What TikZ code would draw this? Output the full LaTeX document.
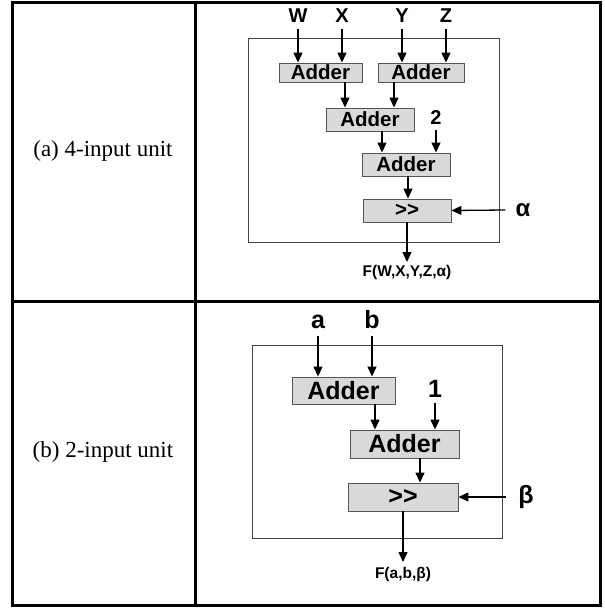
\documentclass[tikz,border=0pt]{standalone}
\usepackage{fontspec}
\setmainfont{Liberation Serif}
\newfontfamily\diagfont{Liberation Sans}
\usetikzlibrary{arrows.meta}
\definecolor{boxfill}{HTML}{D9D9D9}
\definecolor{boxline}{HTML}{555555}
\definecolor{unitline}{HTML}{444444}

\tikzset{
  addbox/.style={draw=boxline,fill=boxfill,line width=0.9pt,inner sep=0pt,
    font=\diagfont\bfseries\fontsize{20.5}{20.5}\selectfont},
  bigbox/.style={addbox,font=\diagfont\bfseries\fontsize{25}{25}\selectfont},
  lbl/.style={inner sep=0pt,font=\diagfont\bfseries\fontsize{20}{20}\selectfont},
  biglbl/.style={lbl,font=\diagfont\bfseries\fontsize{25}{25}\selectfont},
  outlbl/.style={inner sep=0pt,font=\diagfont\bfseries\fontsize{15.5}{15.5}\selectfont},
  arr/.style={line width=1.3pt,-{Triangle[length=10pt,width=9pt]}},
}

\begin{document}
\begin{tikzpicture}[x=1pt,y=-1pt]
    \useasboundingbox (0,0) rectangle (605,608);
    % table
    \draw[line width=3pt] (12.5,2.5) rectangle (600.5,605);
    \draw[line width=3pt] (12.5,301.5) -- (600.5,301.5);
    \draw[line width=3pt] (195,2.5) -- (195,605);
    \node[font=\fontsize{23}{23}\selectfont] (capa) at (103,151) {(a) 4-input unit};
    \node[font=\fontsize{23}{23}\selectfont] (capb) at (103,452) {(b) 2-input unit};

    % (a) 4-input unit
    \draw[draw=unitline,line width=1pt] (248,38) rectangle (499,242);
    \node[addbox,minimum width=83,minimum height=19] (add1) at (320.5,72.5) {Adder};
    \node[addbox,minimum width=86,minimum height=19] (add2) at (421,72.5) {Adder};
    \node[addbox,minimum width=88,minimum height=23] (add3) at (370,119.5) {Adder};
    \node[addbox,minimum width=88,minimum height=23] (add4) at (406,164.5) {Adder};
    \node[addbox,minimum width=88,minimum height=23] (shra) at (407,210.5) {>>};
    \node[lbl] (w) at (298,16) {W};
    \node[lbl] (x) at (342,16) {X};
    \node[lbl] (y) at (402,16) {Y};
    \node[lbl] (z) at (446,16) {Z};
    \node[lbl] (two) at (436,118) {2};
    \node[lbl,font=\diagfont\bfseries\fontsize{24}{24}\selectfont] (alpha) at (523,210) {α};
    \coordinate (outa) at (407,262);
    \node[outlbl,anchor=north] (fa) at (407,265) {F(W,X,Y,Z,α)};
    \draw[arr] ([yshift=-6]w.south) -- (w.south |- add1.north);
    \draw[arr] ([yshift=-6]x.south) -- (x.south |- add1.north);
    \draw[arr] ([yshift=-6]y.south) -- (y.south |- add2.north);
    \draw[arr] ([yshift=-6]z.south) -- (z.south |- add2.north);
    \draw[arr] ([xshift=24.5]add1.south) -- ([xshift=24.5]add1.south |- add3.north);
    \draw[arr] ([xshift=-27]add2.south) -- ([xshift=-27]add2.south |- add3.north);
    \draw[arr] ([yshift=-5]two.south) -- (two.south |- add4.north);
    \draw[arr] ([xshift=12]add3.south) -- ([xshift=12]add3.south |- add4.north);
    \draw[arr] ([xshift=2]add4.south) -- ([xshift=2]add4.south |- shra.north);
    \draw[arr] ([xshift=-10]alpha.west) -- (shra.east);
    \draw[arr] (shra.south) -- (outa);

    % (b) 2-input unit
    \draw[draw=unitline,line width=1pt] (252,345) rectangle (502,538);
    \node[bigbox,minimum width=103,minimum height=27] (badd1) at (343.5,390.5) {Adder};
    \node[bigbox,minimum width=109,minimum height=28] (badd2) at (404.5,444) {Adder};
    \node[bigbox,minimum width=110,minimum height=28] (shrb) at (403,497) {>>};
    \node[biglbl] (ina) at (318,322) {a};
    \node[biglbl] (inb) at (372,320) {b};
    \node[biglbl] (one) at (435,389) {1};
    \node[biglbl] (beta) at (526,497) {β};
    \coordinate (outb) at (403,562);
    \node[outlbl,anchor=north] (fb) at (403,567) {F(a,b,β)};
    \draw[arr] (ina.south |- 0,336) -- (ina.south |- badd1.north);
    \draw[arr] (inb.south |- 0,336) -- (inb.south |- badd1.north);
    \draw[arr] ([xshift=31.5]badd1.south) -- ([xshift=31.5]badd1.south |- badd2.north);
    \draw[arr] ([yshift=-5]one.south) -- (one.south |- badd2.north);
    \draw[arr] ([xshift=15.5]badd2.south) -- ([xshift=15.5]badd2.south |- shrb.north);
    \draw[arr] ([xshift=-12]beta.west) -- (shrb.east);
    \draw[arr] (shrb.south) -- (outb);
  \end{tikzpicture}
\end{document}
